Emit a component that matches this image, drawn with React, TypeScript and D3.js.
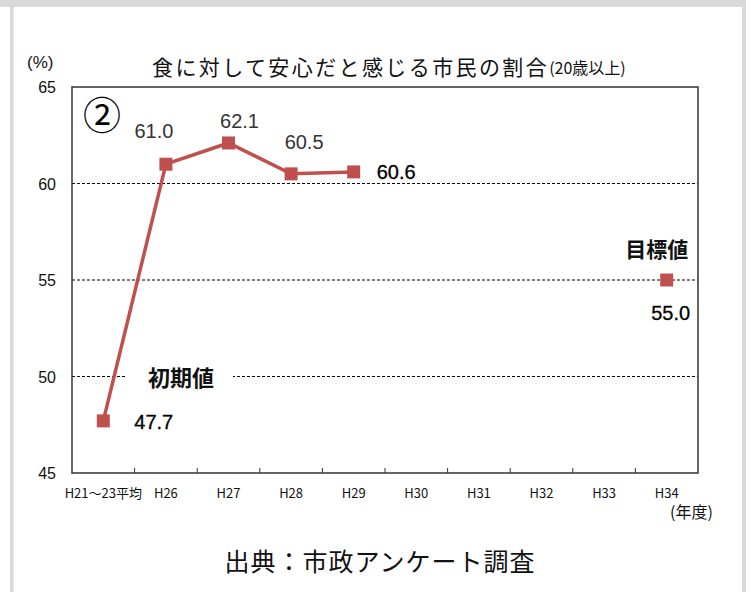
import React from "react";
import * as d3 from "d3";

const categories = ["H21～23平均", "H26", "H27", "H28", "H29", "H30", "H31", "H32", "H33", "H34"];
const actualCats = ["H21～23平均", "H26", "H27", "H28", "H29"];
const actualValues = [47.7, 61.0, 62.1, 60.5, 60.6];
const targetCat = "H34";
const targetValue = 55.0;
const yTicks = [45, 50, 55, 60, 65];
const gridValues = [50, 55, 60];
const title = "食に対して安心だと感じる市民の割合";
const titleSub = "(20歳以上)";
const source = "出典：市政アンケート調査";

// label placement (style, not data)
const labelStyle = [
  { dx: 31, dy: 8, bold: true, anchor: "start" },
  { dx: -12, dy: -26, bold: false, anchor: "middle" },
  { dx: 11, dy: -15, bold: false, anchor: "middle" },
  { dx: 13, dy: -25, bold: false, anchor: "middle" },
  { dx: 23, dy: 7, bold: true, anchor: "start" },
];

const W = 752, H = 592;
const left = 72, right = 698, top = 87, bottom = 473;
const RED = "#c0504d";
const CJK = "'Noto Sans CJK JP', sans-serif";
const NUM = "'Liberation Sans', Arial, sans-serif";

export default function App() {
  const x = d3.scaleBand<string>().domain(categories).range([left, right]).padding(0);
  const y = d3.scaleLinear().domain([45, 65]).range([bottom, top]);
  const cx = (c: string) => (x(c) as number) + x.bandwidth() / 2;
  const pts: [number, number][] = actualCats.map((c, i) => [cx(c), y(actualValues[i])]);
  const line = d3.line();
  const ms = 13;
  return (
    <div style={{ position: "absolute", left: 0, top: 0 }}>
      <svg width={W} height={H} style={{ display: "block", background: "#fff" }}>
        {/* outer gray frame */}
        <rect x={0} y={0} width={746} height={7} fill="#d9d9d9" />
        <rect x={10} y={7} width={3.5} height={H - 7} fill="#d9d9d9" />
        <rect x={742} y={7} width={4} height={H - 7} fill="#d9d9d9" />

        {/* title */}
        <text x={152} y={75} fontFamily={CJK} fontSize={21} fill="#111" letterSpacing={2.4}>
          {title}
          <tspan fontSize={16} letterSpacing={0} dy={-1}>{titleSub}</tspan>
        </text>
        <text x={27} y={68} fontFamily={NUM} fontSize={17} fill="#111">(%)</text>

        {/* grid */}
        {gridValues.map((v) => (
          <line key={v} x1={left} x2={right} y1={y(v)} y2={y(v)} stroke="#000" strokeWidth={1} strokeDasharray="3,2" />
        ))}
        {/* white behind 初期値 */}
        <rect x={127} y={y(50) - 3} width={106} height={6} fill="#fff" />

        {/* frame */}
        <rect x={left} y={top} width={right - left} height={bottom - top} fill="none" stroke="#333" strokeWidth={1.5} />
        {categories.slice(1).map((c) => (
          <line key={c} x1={x(c)} x2={x(c)} y1={bottom} y2={bottom - 5} stroke="#333" strokeWidth={1} />
        ))}

        {/* y tick labels */}
        {yTicks.map((v) => (
          <text key={v} x={56} y={y(v) + 6} textAnchor="end" fontFamily={NUM} fontSize={16} fill="#111">{v}</text>
        ))}
        {/* x labels */}
        {categories.map((c) => (
          <text key={c} x={cx(c)} y={498} textAnchor="middle" fontFamily={CJK} fontSize={13} fill="#111">{c}</text>
        ))}
        <text x={670} y={518} fontFamily={CJK} fontSize={16} fill="#111">(年度)</text>

        {/* series */}
        <path d={line(pts) || ""} fill="none" stroke={RED} strokeWidth={3.5} />
        {pts.map(([px, py], i) => (
          <rect key={i} x={px - ms / 2} y={py - ms / 2} width={ms} height={ms} fill={RED} />
        ))}
        {pts.map(([px, py], i) => {
          const s = labelStyle[i];
          return (
            <text key={"l" + i} x={px + s.dx} y={py + s.dy} textAnchor={s.anchor as any}
              fontFamily={NUM} fontSize={20} fill={s.bold ? "#000" : "#333"}
              stroke={s.bold ? "#000" : "none"} strokeWidth={s.bold ? 0.3 : 0}>
              {actualValues[i].toFixed(1)}
            </text>
          );
        })}
        {/* target */}
        <rect x={cx(targetCat) - ms / 2} y={y(targetValue) - ms / 2} width={ms} height={ms} fill={RED} />
        <text x={cx(targetCat) + 4} y={y(targetValue) + 40} textAnchor="middle" fontFamily={NUM} fontSize={20} fill="#000" stroke="#000" strokeWidth={0.3}>
          {targetValue.toFixed(1)}
        </text>
        <text x={cx(targetCat) - 10} y={y(targetValue) - 23} textAnchor="middle" fontFamily={CJK} fontSize={21} fontWeight="bold" fill="#111">目標値</text>
        <text x={181} y={y(50) + 9} textAnchor="middle" fontFamily={CJK} fontSize={22} fontWeight="bold" fill="#111">初期値</text>

        {/* circled number */}
        <text x={102} y={129} textAnchor="middle" fontFamily={CJK} fontSize={38} fill="#000">②</text>

        {/* source */}
        <text x={380} y={571} textAnchor="middle" fontFamily={CJK} fontSize={25} fill="#111" letterSpacing={1}>{source}</text>
      </svg>
    </div>
  );
}
